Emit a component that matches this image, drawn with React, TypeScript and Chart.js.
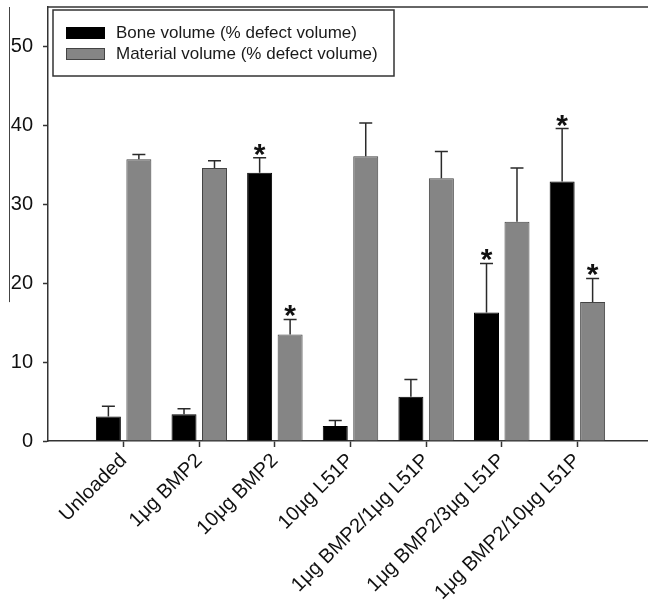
import React, { useEffect, useRef } from "react";
import { Chart, registerables } from "chart.js";

Chart.register(...registerables);

const categories = [
  "Unloaded",
  "1μg BMP2",
  "10μg BMP2",
  "10μg L51P",
  "1μg BMP2/1μg L51P",
  "1μg BMP2/3μg L51P",
  "1μg BMP2/10μg L51P",
];
const boneValues = [3.1, 3.4, 34.0, 1.9, 5.6, 16.3, 32.9];
const boneErrors = [1.3, 0.7, 1.9, 0.7, 2.2, 6.2, 6.7];
const boneSignificant = [false, false, true, false, false, true, true];
const materialValues = [35.7, 34.6, 13.5, 36.1, 33.3, 27.8, 17.6];
const materialErrors = [0.6, 0.9, 1.9, 4.2, 3.4, 6.8, 3.0];
const materialSignificant = [false, false, true, false, false, false, true];
const yTicks = [0, 10, 20, 30, 40, 50];
const seriesLabels = ["Bone volume (% defect volume)", "Material volume (% defect volume)"];

const FONT = "'Liberation Sans', Arial, sans-serif";
const AXIS = "#333333";

const pad = (arr: any[]) => [null, ...arr, null];

const zeroPad = (s: any) => {
  s.paddingTop = 0;
  s.paddingBottom = 0;
  s.paddingLeft = 0;
  s.paddingRight = 0;
};

const errorBarPlugin = {
  id: "errorBars",
  afterDatasetsDraw(chart: any) {
    const ctx = chart.ctx;
    const yScale = chart.scales.y;
    const sets = [
      { errs: boneErrors, vals: boneValues, sig: boneSignificant },
      { errs: materialErrors, vals: materialValues, sig: materialSignificant },
    ];
    sets.forEach((s, di) => {
      const meta = chart.getDatasetMeta(di);
      s.vals.forEach((v, i) => {
        const el = meta.data[i + 1];
        if (!el) return;
        const x = el.x;
        const y0 = yScale.getPixelForValue(v);
        const y1 = yScale.getPixelForValue(v + s.errs[i]);
        ctx.save();
        ctx.strokeStyle = "#2a2a2a";
        ctx.lineWidth = 1.5;
        ctx.beginPath();
        ctx.moveTo(x, y0);
        ctx.lineTo(x, y1);
        ctx.moveTo(x - 6.5, y1);
        ctx.lineTo(x + 6.5, y1);
        ctx.stroke();
        if (s.sig[i]) {
          ctx.font = `bold 30px ${FONT}`;
          ctx.fillStyle = "#111";
          ctx.textAlign = "center";
          ctx.textBaseline = "alphabetic";
          const m = ctx.measureText("*");
          const desc = m.actualBoundingBoxDescent || -12;
          const base = y1 - 2 - desc;
          ctx.fillText("*", x, base);
        }
        ctx.restore();
      });
    });
  },
};

const decorPlugin = {
  id: "decor",
  afterDraw(chart: any) {
    const ctx = chart.ctx;
    const a = chart.chartArea;
    const yScale = chart.scales.y;
    ctx.save();
    // top frame line
    ctx.strokeStyle = AXIS;
    ctx.lineWidth = 1.5;
    ctx.beginPath();
    ctx.moveTo(a.left - 1, a.top);
    ctx.lineTo(chart.width, a.top);
    ctx.stroke();
    // stray vertical line at far left
    ctx.lineWidth = 1;
    ctx.strokeStyle = "#444";
    ctx.beginPath();
    ctx.moveTo(9.5, a.top);
    ctx.lineTo(9.5, yScale.getPixelForValue(17.6));
    ctx.stroke();

    // legend box
    const bx = a.left + 5;
    const by = a.top + 3;
    const bw = 341;
    const bh = 66;
    ctx.lineWidth = 1.5;
    ctx.strokeStyle = AXIS;
    ctx.fillStyle = "#ffffff";
    ctx.fillRect(bx, by, bw, bh);
    ctx.strokeRect(bx, by, bw, bh);
    const colors = [
      { fill: "#000000", stroke: "#000000" },
      { fill: "#858585", stroke: "#444444" },
    ];
    seriesLabels.forEach((lab, i) => {
      const sy = by + 17 + i * 21;
      ctx.fillStyle = colors[i].fill;
      ctx.fillRect(bx + 13, sy, 39, 12);
      ctx.strokeStyle = colors[i].stroke;
      ctx.lineWidth = 1;
      ctx.strokeRect(bx + 13.5, sy + 0.5, 38, 11);
      ctx.fillStyle = "#1a1a1a";
      ctx.font = `17px ${FONT}`;
      ctx.textAlign = "left";
      ctx.textBaseline = "middle";
      ctx.fillText(lab, bx + 63, sy + 6.5);
    });
    ctx.restore();
  },
};

export default function App() {
  const ref = useRef<HTMLCanvasElement | null>(null);
  useEffect(() => {
    if (!ref.current) return;
    const labels = ["", ...categories, ""];
    const chart = new Chart(ref.current, {
      type: "bar",
      data: {
        labels,
        datasets: [
          {
            label: seriesLabels[0],
            data: pad(boneValues),
            backgroundColor: "#000000",
            borderColor: "#000000",
            borderWidth: 1,
            categoryPercentage: 0.806,
            barPercentage: 0.82,
          },
          {
            label: seriesLabels[1],
            data: pad(materialValues),
            backgroundColor: "#858585",
            borderColor: "#444444",
            borderWidth: 1,
            categoryPercentage: 0.806,
            barPercentage: 0.82,
          },
        ],
      },
      options: {
        responsive: false,
        maintainAspectRatio: false,
        animation: false,
        layout: { padding: { top: 7, left: 0, right: 3, bottom: 0 } },
        plugins: {
          legend: { display: false },
          tooltip: { enabled: false },
        },
        scales: {
          x: {
            type: "category",
            offset: false,
            afterFit: (s: any) => {
              s.height = 163;
              zeroPad(s);
            },
            grid: {
              display: true,
              offset: false,
              drawOnChartArea: false,
              tickLength: 6,
              tickWidth: 1.5,
              tickColor: (c: any) => (c.index === 0 || c.index === labels.length - 1 ? "rgba(0,0,0,0)" : AXIS),
            },
            border: { display: true, color: AXIS, width: 1.5 },
            ticks: {
              autoSkip: false,
              minRotation: 45,
              maxRotation: 45,
              padding: 2,
              color: "#111",
              font: { family: FONT, size: 20 },
            },
          },
          y: {
            min: 0,
            max: 55,
            afterFit: (s: any) => {
              s.width = 48;
              zeroPad(s);
            },
            afterBuildTicks: (s: any) => {
              s.ticks = yTicks.map((v) => ({ value: v }));
            },
            grid: {
              display: true,
              drawOnChartArea: false,
              tickLength: 5,
              tickWidth: 1.5,
              tickColor: AXIS,
            },
            border: { display: true, color: AXIS, width: 1.5 },
            ticks: {
              includeBounds: false,
              stepSize: 10,
              padding: 10,
              color: "#111",
              font: { family: FONT, size: 20 },
            },
          },
        },
      },
      plugins: [errorBarPlugin, decorPlugin],
    });
    return () => chart.destroy();
  }, []);
  return (
    <div style={{ position: "fixed", left: 0, top: 0, width: 656, height: 604, background: "#fff" }}>
      <canvas ref={ref} width={656} height={604} style={{ width: 656, height: 604, display: "block" }} />
    </div>
  );
}
